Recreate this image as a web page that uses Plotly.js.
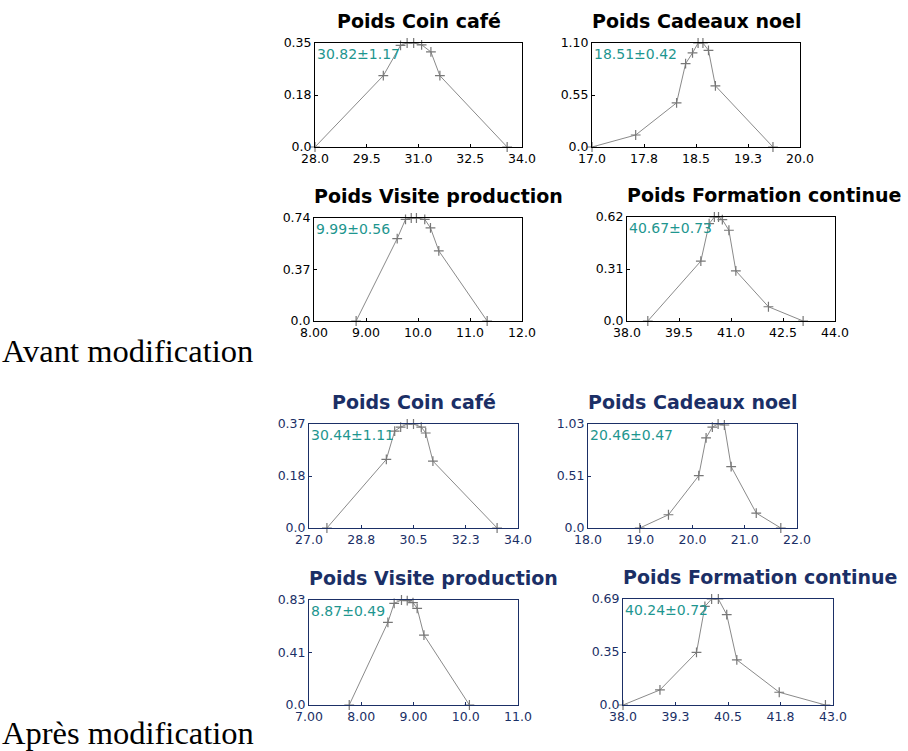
<!DOCTYPE html>
<html>
<head>
<meta charset="utf-8">
<script src="https://cdn.plot.ly/plotly-3.0.1.min.js"></script>
<style>html,body{margin:0;padding:0;background:#fff;}#chart{width:908px;height:751px;}</style>
</head>
<body>
<div id="chart"></div>
<script>
// ---- Data ----
const sectionLabels = ["Avant modification", "Après modification"];
const panelTitles = ["Poids Coin café", "Poids Cadeaux noel", "Poids Visite production", "Poids Formation continue",
                     "Poids Coin café", "Poids Cadeaux noel", "Poids Visite production", "Poids Formation continue"];
const panelStats = ["30.82±1.17", "18.51±0.42", "9.99±0.56", "40.67±0.73",
                    "30.44±1.11", "20.46±0.47", "8.87±0.49", "40.24±0.72"];

const avCafeX = [28.0, 29.98, 30.48, 30.67, 30.86, 31.09, 31.36, 31.62, 33.57];
const avCafeY = [0, 0.240, 0.342, 0.35, 0.35, 0.344, 0.320, 0.240, 0];
const avCadX  = [17.0, 17.63, 18.22, 18.35, 18.45, 18.53, 18.60, 18.68, 18.78, 19.61];
const avCadY  = [0, 0.127, 0.467, 0.882, 0.995, 1.10, 1.10, 1.023, 0.647, 0];
const avVisX  = [8.81, 9.60, 9.76, 9.87, 9.97, 10.13, 10.24, 10.40, 11.33];
const avVisY  = [0, 0.592, 0.730, 0.74, 0.74, 0.73, 0.669, 0.504, 0];
const avForX  = [38.60, 40.13, 40.37, 40.52, 40.64, 40.75, 40.94, 41.14, 42.08, 43.08];
const avForY  = [0, 0.357, 0.580, 0.62, 0.62, 0.604, 0.541, 0.299, 0.085, 0];
const apCafeX = [27.60, 29.59, 29.87, 30.07, 30.29, 30.50, 30.76, 30.91, 31.15, 33.30];
const apCafeY = [0, 0.244, 0.345, 0.359, 0.37, 0.37, 0.359, 0.338, 0.238, 0];
const apCadX  = [18.99, 19.54, 20.12, 20.26, 20.38, 20.49, 20.61, 20.74, 21.22, 21.69];
const apCadY  = [0, 0.131, 0.518, 0.892, 1.00, 1.03, 1.02, 0.607, 0.148, 0];
const apVisX  = [7.77, 8.51, 8.63, 8.77, 8.88, 8.99, 9.07, 9.20, 10.07];
const apVisY  = [0, 0.653, 0.804, 0.83, 0.825, 0.809, 0.764, 0.553, 0];
const apForX  = [38.0, 38.88, 39.75, 39.95, 40.11, 40.27, 40.47, 40.71, 41.72, 42.82];
const apForY  = [0, 0.098, 0.342, 0.642, 0.69, 0.69, 0.588, 0.294, 0.083, 0];

const avCafeXTicks = [28, 29.5, 31, 32.5, 34];     const avCafeXText = ["28.0", "29.5", "31.0", "32.5", "34.0"];
const avCafeYTicks = [0, 0.175, 0.35];            const avCafeYText = ["0.0", "0.18", "0.35"];
const avCadXTicks  = [17, 17.75, 18.5, 19.25, 20]; const avCadXText  = ["17.0", "17.8", "18.5", "19.3", "20.0"];
const avCadYTicks  = [0, 0.55, 1.10];             const avCadYText  = ["0.0", "0.55", "1.10"];
const avVisXTicks  = [8, 9, 10, 11, 12];          const avVisXText  = ["8.00", "9.00", "10.0", "11.0", "12.0"];
const avVisYTicks  = [0, 0.37, 0.74];             const avVisYText  = ["0.0", "0.37", "0.74"];
const avForXTicks  = [38, 39.5, 41, 42.5, 44];    const avForXText  = ["38.0", "39.5", "41.0", "42.5", "44.0"];
const avForYTicks  = [0, 0.31, 0.62];             const avForYText  = ["0.0", "0.31", "0.62"];
const apCafeXTicks = [27, 28.75, 30.5, 32.25, 34]; const apCafeXText = ["27.0", "28.8", "30.5", "32.3", "34.0"];
const apCafeYTicks = [0, 0.185, 0.37];            const apCafeYText = ["0.0", "0.18", "0.37"];
const apCadXTicks  = [18, 19, 20, 21, 22];        const apCadXText  = ["18.0", "19.0", "20.0", "21.0", "22.0"];
const apCadYTicks  = [0, 0.515, 1.03];            const apCadYText  = ["0.0", "0.51", "1.03"];
const apVisXTicks  = [7, 8, 9, 10, 11];           const apVisXText  = ["7.00", "8.00", "9.00", "10.0", "11.0"];
const apVisYTicks  = [0, 0.415, 0.83];            const apVisYText  = ["0.0", "0.41", "0.83"];
const apForXTicks  = [38, 39.25, 40.5, 41.75, 43]; const apForXText  = ["38.0", "39.3", "40.5", "41.8", "43.0"];
const apForYTicks  = [0, 0.345, 0.69];            const apForYText  = ["0.0", "0.35", "0.69"];

// ---- Assemble ----
const series = [
  [avCafeX, avCafeY, avCafeXTicks, avCafeXText, avCafeYTicks, avCafeYText],
  [avCadX, avCadY, avCadXTicks, avCadXText, avCadYTicks, avCadYText],
  [avVisX, avVisY, avVisXTicks, avVisXText, avVisYTicks, avVisYText],
  [avForX, avForY, avForXTicks, avForXText, avForYTicks, avForYText],
  [apCafeX, apCafeY, apCafeXTicks, apCafeXText, apCafeYTicks, apCafeYText],
  [apCadX, apCadY, apCadXTicks, apCadXText, apCadYTicks, apCadYText],
  [apVisX, apVisY, apVisXTicks, apVisXText, apVisYTicks, apVisYText],
  [apForX, apForY, apForXTicks, apForXText, apForYTicks, apForYText]
];

const W = 908, H = 751;
// plot boxes in pixels: [left, right, top, bottom]
const boxes = [[315,522,43,147],[592,800,43,147],[314,522,218,321],[627,835,217,321],
               [309,518,424,528],[588,797,424,528],[309,518,600,705],[623,833,599,705]];
const titleCentered = [true,false,false,false,true,false,false,false];

const traces = [];
const layout = {
  width: W, height: H,
  margin: {l:0, r:0, t:0, b:0},
  paper_bgcolor: '#fff', plot_bgcolor: '#fff',
  showlegend: false,
  annotations: []
};

const gray = '#8a8a8a';
const teal = '#1e968f';
const tickFont = 'DejaVu Sans, sans-serif';

series.forEach((s, i) => {
  const n = i + 1;
  const xa = 'xaxis' + (n === 1 ? '' : n), ya = 'yaxis' + (n === 1 ? '' : n);
  const xr = 'x' + (n === 1 ? '' : n), yr = 'y' + (n === 1 ? '' : n);
  const col = i < 4 ? '#000000' : '#1b2f66';
  const b = boxes[i];
  traces.push({
    type: 'scatter', mode: 'lines+markers',
    x: s[0], y: s[1], xaxis: xr, yaxis: yr,
    line: {color: gray, width: 1},
    marker: {symbol: 'cross-thin', size: 7, color: gray, line: {color: '#777', width: 1.2}},
    cliponaxis: false, hoverinfo: 'skip'
  });
  const common = {
    showgrid: false, zeroline: false, showline: true, mirror: true,
    linecolor: col, linewidth: 1, ticks: 'inside', ticklen: 3, tickcolor: col,
    tickmode: 'array', tickfont: {family: tickFont, size: 12.5, color: col}, fixedrange: true
  };
  layout[xa] = Object.assign({}, common, {
    domain: [b[0]/W, b[1]/W], anchor: yr,
    range: [s[2][0], s[2][s[2].length-1]],
    tickvals: s[2], ticktext: s[3]
  });
  layout[ya] = Object.assign({}, common, {
    domain: [1 - b[3]/H, 1 - b[2]/H], anchor: xr,
    range: [s[4][0], s[4][s[4].length-1]],
    tickvals: s[4], ticktext: s[5]
  });
  layout.annotations.push({
    xref: 'paper', yref: 'paper',
    x: titleCentered[i] ? (b[0]+b[1])/2/W : (b[0]-1)/W,
    xanchor: titleCentered[i] ? 'center' : 'left',
    y: 1 - (b[2]-22)/H, yanchor: 'middle', borderpad: 0,
    text: panelTitles[i], showarrow: false,
    font: {family: 'DejaVu Sans, sans-serif', size: 19, weight: 'bold', color: col}
  });
  layout.annotations.push({
    xref: 'paper', yref: 'paper',
    x: (b[0]+1)/W, xanchor: 'left',
    y: 1 - (b[2]+2)/H, yanchor: 'top', borderpad: 0,
    text: panelStats[i], showarrow: false,
    font: {family: tickFont, size: 14, color: teal}
  });
});

layout.annotations.push({
  xref: 'paper', yref: 'paper', x: 1/W, xanchor: 'left', y: 1 - 351/H, yanchor: 'middle',
  text: sectionLabels[0], showarrow: false, borderpad: 0,
  font: {family: 'Liberation Serif, Times New Roman, serif', size: 32.5, color: '#000'}
});
layout.annotations.push({
  xref: 'paper', yref: 'paper', x: 1/W, xanchor: 'left', y: 1 - 733/H, yanchor: 'middle',
  text: sectionLabels[1], showarrow: false, borderpad: 0,
  font: {family: 'Liberation Serif, Times New Roman, serif', size: 32.5, color: '#000'}
});

Plotly.newPlot('chart', traces, layout, {displayModeBar: false, staticPlot: true});
</script>
</body>
</html>
